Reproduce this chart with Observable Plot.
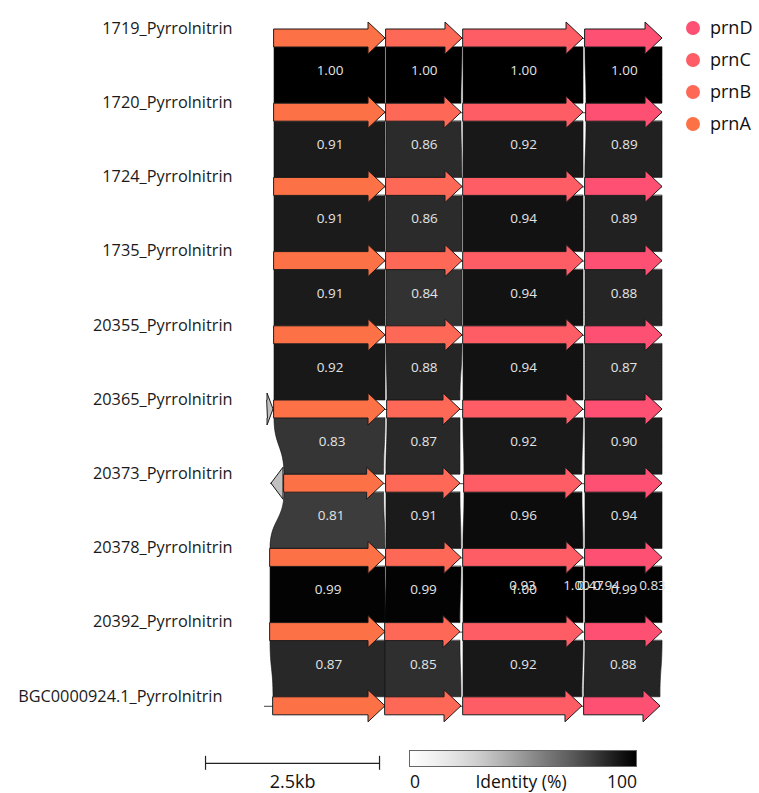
<!DOCTYPE html>
<html><head><meta charset="utf-8">
<script src="https://cdn.jsdelivr.net/npm/d3@7"></script>
<script src="https://cdn.jsdelivr.net/npm/@observablehq/plot@0.6"></script>
<style>
body{margin:0;background:#fff;}
#wrap{position:relative;width:759px;height:793px;font-family:"Open Sans",sans-serif;color:#111;overflow:hidden;}
#genelegend{position:absolute;left:684px;top:18px;}
#genelegend .item{position:absolute;left:0;height:20px;white-space:nowrap;font-size:18px;line-height:20px;}
#genelegend .dot{position:absolute;left:2px;top:3px;width:14px;height:14px;border-radius:50%;}
#genelegend .lab{position:absolute;left:26px;top:-1px;}
#idlegend{position:absolute;left:409px;top:750px;width:228px;}
#idlegend .bar{height:17px;border:1px solid #666;box-sizing:border-box;}
#idlegend .labs{position:relative;height:22px;font-size:17.5px;line-height:22px;margin-top:3px;}
#idlegend .labs span{position:absolute;top:0;}
</style></head><body><div id="wrap"></div>
<script>
// ---- data ----
const clusterNames = ["1719_Pyrrolnitrin","1720_Pyrrolnitrin","1724_Pyrrolnitrin","1735_Pyrrolnitrin","20355_Pyrrolnitrin","20365_Pyrrolnitrin","20373_Pyrrolnitrin","20378_Pyrrolnitrin","20392_Pyrrolnitrin","BGC0000924.1_Pyrrolnitrin"];
const clusterStarts = [0,0,0,0,0,0,0,0,0,-144]; // locus start (bp)
const geneNames = ["prnA","prnB","prnC","prnD"];
const geneColors = ["#fd7146","#fe6957","#fe5d66","#fd5072"];
// [start, end] in bp for each cluster
const prnA = [[0,1595],[0,1595],[0,1595],[0,1595],[0,1595],[0,1595],[144,1575],[-57,1595],[-57,1595],[-14,1595]];
const prnB = [[1609,2701],[1609,2687],[1609,2701],[1609,2701],[1609,2701],[1624,2672],[1609,2672],[1609,2687],[1595,2672],[1595,2687]];
const prnC = [[2716,4440],[2716,4440],[2716,4440],[2716,4440],[2716,4440],[2716,4440],[2730,4425],[2716,4440],[2716,4440],[2716,4425]];
const prnD = [[4468,5575],[4483,5575],[4468,5575],[4468,5575],[4468,5575],[4468,5575],[4468,5575],[4468,5575],[4468,5575],[4454,5546]];
const otherGenes = [{cluster:5,start:-100,end:-14,strand:1},{cluster:6,start:-43,end:129,strand:-1}];
// identity between cluster i and i+1
const identityA = [1.00,0.91,0.91,0.91,0.92,0.83,0.81,0.99,0.87];
const identityB = [1.00,0.86,0.86,0.84,0.88,0.87,0.91,0.99,0.85];
const identityC = [1.00,0.92,0.94,0.94,0.94,0.92,0.96,1.00,0.92];
const identityD = [1.00,0.89,0.89,0.88,0.87,0.90,0.94,0.99,0.88];
const strayLabels = [{link:7,x:3563,value:"0.93"},{link:7,x:4339,value:"1.00"},{link:7,x:4540,value:"0.47"},{link:7,x:4770,value:"0.94"},{link:7,x:5431,value:"0.83"}];
const scaleBarLength = 2500;
const scaleBarLabel = "2.5kb";
const identityLegend = ["0","Identity (%)","100"];

// ---- geometry ----
const BH = 9/74.2, HH = 16/74.2, HL = 244;
const genePos = [prnA, prnB, prnC, prnD];
const identities = [identityA, identityB, identityC, identityD];

const genes = [];
clusterNames.forEach((name, r) => {
  genePos.forEach((arr, g) => genes.push({cluster:r, start:arr[r][0], end:arr[r][1], strand:1, color:geneColors[g], id:`${r}-${g}`}));
});
otherGenes.forEach((o, k) => genes.push({...o, color:"#c0c0c0", id:`o${k}`}));

const arrowPts = [];
genes.forEach(d => {
  const r = d.cluster, hl = Math.min(HL, d.end - d.start);
  let pts;
  if (d.strand > 0) {
    pts = [[d.start,BH],[d.end-hl,BH],[d.end-hl,HH],[d.end,0]];
  } else {
    pts = [[d.start,0],[d.start+hl,HH],[d.start+hl,BH],[d.end,BH]];
  }
  pts.forEach(([x,h]) => arrowPts.push({x, y1:r-h, y2:r+h, id:d.id, color:d.color}));
});

const linkPts = [], linkLabels = [];
for (let i = 0; i < clusterNames.length - 1; i++) {
  genePos.forEach((arr, g) => {
    const v = identities[g][i];
    const c = d3.interpolateGreys(v);
    const id = `L${i}-${g}`;
    linkPts.push({y:i+BH, x1:arr[i][0], x2:arr[i][1], id, color:c});
    linkPts.push({y:i+1-BH, x1:arr[i+1][0], x2:arr[i+1][1], id, color:c});
    linkLabels.push({x:(arr[i][0]+arr[i][1]+arr[i+1][0]+arr[i+1][1])/4, y:i+0.5, text:v.toFixed(2)});
  });
}

const loci = clusterNames.map((name, r) => {
  const gs = genes.filter(d => d.cluster === r);
  return {name, row:r, start:Math.min(clusterStarts[r], d3.min(gs, d => d.start)), end:d3.max(gs, d => d.end), labelAt:clusterStarts[r]};
});

const sbStart = -991;
const sbY = 9 + 57/74.2;

const chart = Plot.plot({
  width:759, height:793,
  x:{domain:[0,2500], range:[274,448], axis:null},
  y:{domain:[0,9], range:[38,705.8], axis:null},
  color:{type:"identity"},
  style:{fontFamily:"'Open Sans', sans-serif", background:"white", overflow:"visible"},
  marks:[
    Plot.areaX(linkPts, {y:"y", x1:"x1", x2:"x2", z:"id", fill:"color", stroke:"#111", strokeWidth:0.6, curve:"bump-y"}),
    Plot.ruleY(loci, {y:"row", x1:"start", x2:"end", stroke:"#444", strokeWidth:1}),
    Plot.areaY(arrowPts, {x:"x", y1:"y1", y2:"y2", z:"id", fill:"color", stroke:"#1a1a1a", strokeWidth:1, strokeLinejoin:"miter"}),
    Plot.text(linkLabels, {x:"x", y:"y", text:"text", fill:"#e4e4e4", fontSize:13.5, dy:-5}),
    Plot.text(strayLabels, {x:"x", y:d => d.link + 0.5, text:"value", fill:"#e4e4e4", fontSize:13.5, dy:-9}),
    Plot.text(loci, {x:"labelAt", y:"row", text:"name", textAnchor:"end", dx:-42, dy:-10, fontSize:16.3, fill:"#1a1a1a"}),
    Plot.ruleY([sbY], {x1:sbStart, x2:sbStart+scaleBarLength, stroke:"#222", strokeWidth:1.2}),
    Plot.ruleX([sbStart, sbStart+scaleBarLength], {y1:sbY-7/74.2, y2:sbY+7/74.2, stroke:"#222", strokeWidth:1.2}),
    Plot.text([scaleBarLabel], {x:sbStart+scaleBarLength/2, y:sbY+19/74.2, text:d=>d, fontSize:18, fill:"#111"})
  ]
});

const wrap = document.getElementById("wrap");
wrap.appendChild(chart);

// gene legend
const gl = document.createElement("div"); gl.id = "genelegend";
geneNames.slice().reverse().forEach((n, k) => {
  const g = geneNames.indexOf(n);
  const it = document.createElement("div"); it.className = "item"; it.style.top = (k*32) + "px";
  it.innerHTML = `<span class="dot" style="background:${geneColors[g]}"></span><span class="lab">${n}</span>`;
  gl.appendChild(it);
});
wrap.appendChild(gl);

// identity legend
const il = document.createElement("div"); il.id = "idlegend";
const stops = d3.range(0, 1.0001, 0.1).map(t => `${d3.interpolateGreys(t)} ${t*100}%`).join(",");
il.innerHTML = `<div class="bar" style="background:linear-gradient(to right, ${stops})"></div>
<div class="labs"><span style="left:1px">${identityLegend[0]}</span><span style="left:50%;transform:translateX(-50%);margin-left:-2px">${identityLegend[1]}</span><span style="right:0">${identityLegend[2]}</span></div>`;
wrap.appendChild(il);
chart.style.position = "absolute"; chart.style.left = "0"; chart.style.top = "0";
</script></body></html>
